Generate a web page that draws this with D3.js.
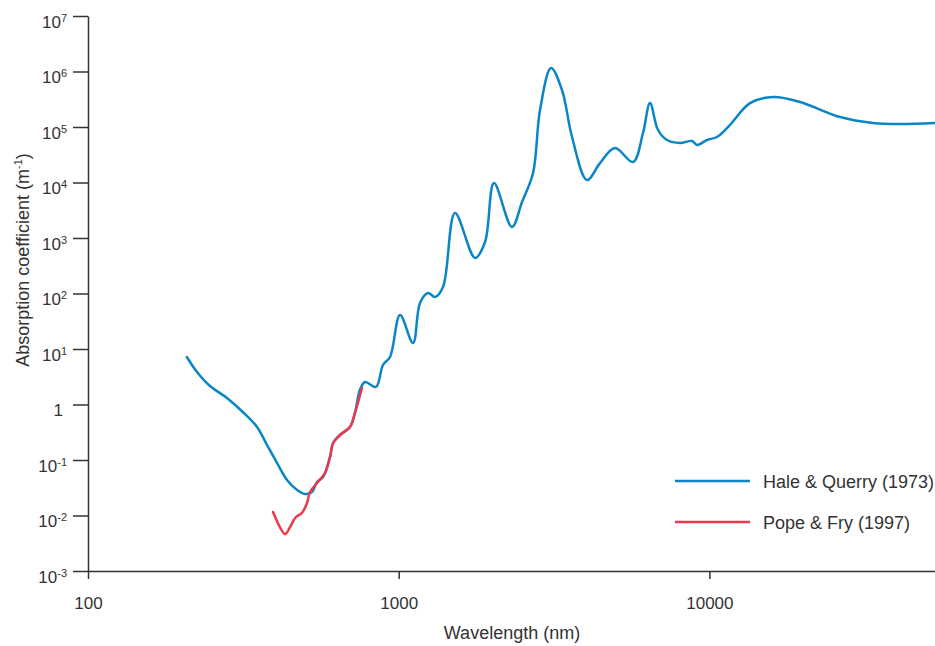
<!DOCTYPE html>
<html>
<head>
<meta charset="utf-8">
<script src="https://cdn.jsdelivr.net/npm/d3@7"></script>
<style>
    body { margin: 0; background: #fff; }
    svg text { font-family: "Liberation Sans", Arial, sans-serif; fill: #333; }
    .axis path, .axis line { stroke: #333; stroke-width: 1.5; }
    .series { fill: none; stroke-width: 2.5; stroke-linejoin: round; stroke-linecap: round; }
</style>
</head>
<body>
<div class="chart"></div>
<script>
"use strict";

// Hale & Querry (1973): wavelength (nm), absorption coefficient (m^-1)
const hale_wavelength = [208, 224, 247, 280, 315, 350, 377, 406, 437, 471, 499, 526, 546, 571,
    601, 615, 647, 697, 723, 750, 779, 845, 890, 938, 1010, 1112, 1171, 1243, 1309, 1389, 1518, 1761,
    1896, 2026, 2315, 2494, 2706, 2850, 3092, 3354, 3613, 4037, 4445, 4968, 5677, 6114, 6440,
    6833, 7304, 8043, 8790, 9123, 9824, 10580, 11650, 13510, 16020, 19570, 26330, 33630,
    41080, 53230];
const hale_absorption = [7.18, 3.9, 2.15, 1.31, 0.733, 0.394, 0.186, 0.0883, 0.0436, 0.0288,
    0.0244, 0.0265, 0.0402, 0.0494, 0.113, 0.202, 0.282, 0.394, 0.703, 1.82, 2.54, 2.07, 5.15, 7.18, 41.0,
    12.8, 67.4, 102, 86.5, 131, 2820, 437, 847, 9790, 1580, 4450, 14800, 202000, 1156000,
    464000, 66100, 11100, 22400, 41800, 23400, 78000, 270000, 88300, 58300, 51500, 56000,
    47400, 58300, 66100, 109000, 270000, 347000, 282000, 151000, 118000, 113000, 118000];

// Pope & Fry (1997)
const pope_wavelength = [394, 431, 447, 467, 488, 507, 518, 546, 579, 601, 615, 647, 697, 723, 762];
const pope_absorption = [0.01156, 0.00464, 0.00621, 0.0094, 0.0111, 0.0168, 0.0265, 0.0385,
    0.0583, 0.113, 0.202, 0.282, 0.394, 0.703, 1.98];

const x_ticks = [100, 1000, 10000];
const y_ticks = [1e-3, 1e-2, 1e-1, 1, 1e1, 1e2, 1e3, 1e4, 1e5, 1e6, 1e7];

const legend_names = ["Hale & Querry (1973)", "Pope & Fry (1997)"];
const series_colors = ["#0a85c6", "#ec3a4c"];

window.onload = () => main();

function main() {
    const config = { width: 935, height: 646, left: 88, top: 16, bottom: 571, decade: 310.7 };

    const svg = d3.select(".chart")
        .append("svg")
        .attr("width", config.width)
        .attr("height", config.height);

    const x = d3.scaleLog()
        .domain([100, 100000])
        .range([config.left, config.left + 3 * config.decade]);
    const y = d3.scaleLog()
        .domain([1e-3, 1e7])
        .range([config.bottom, config.top]);

    // x axis
    const x_axis = svg.append("g")
        .attr("class", "axis")
        .attr("transform", `translate(0,${config.bottom})`)
        .call(d3.axisBottom(x).tickValues(x_ticks).tickSize(8).tickSizeOuter(0).tickFormat(d3.format("d")));
    x_axis.selectAll("text")
        .attr("font-size", 17)
        .attr("y", 26)
        .attr("dy", "0.71em");

    // y axis with superscript labels
    const y_axis = svg.append("g")
        .attr("class", "axis")
        .attr("transform", `translate(${config.left},0)`)
        .call(d3.axisLeft(y).tickValues(y_ticks).tickSize(15).tickSizeOuter(0).tickFormat(""));
    y_axis.selectAll(".tick text").remove();
    y_axis.selectAll(".tick").each(function(d) {
        const exponent = Math.round(Math.log10(d));
        const label = d3.select(this).append("text")
            .attr("x", -21)
            .attr("y", 11)
            .attr("text-anchor", "end")
            .attr("font-size", 17)
            .attr("fill", "#333")
            .attr("stroke", "none");
        if (exponent === 0) {
            label.attr("x", -25).text("1");
        } else {
            label.append("tspan").text("10");
            label.append("tspan")
                .attr("font-size", 11)
                .attr("dy", -6)
                .text(exponent);
        }
    });
    svg.selectAll(".axis .domain").attr("fill", "none");

    // axis titles
    svg.append("text")
        .attr("x", 512)
        .attr("y", 639)
        .attr("text-anchor", "middle")
        .attr("font-size", 18)
        .text("Wavelength (nm)");

    const y_title = svg.append("text")
        .attr("transform", "translate(29,260) rotate(-90)")
        .attr("text-anchor", "middle")
        .attr("font-size", 18);
    y_title.append("tspan").text("Absorption coefficient (m");
    y_title.append("tspan").attr("font-size", 11).attr("dy", -7).text("-1");
    y_title.append("tspan").attr("dy", 7).text(")");

    // curves
    const line = d3.line()
        .x((d) => x(d[0]))
        .y((d) => y(d[1]))
        .curve(d3.curveCatmullRom.alpha(0.5));

    const hale = d3.zip(hale_wavelength, hale_absorption);
    const pope = d3.zip(pope_wavelength, pope_absorption);

    svg.append("path")
        .datum(hale)
        .attr("class", "series")
        .attr("stroke", series_colors[0])
        .attr("d", line);
    svg.append("path")
        .datum(pope)
        .attr("class", "series")
        .attr("stroke", series_colors[1])
        .attr("d", line);

    // legend
    const legend = svg.append("g").attr("transform", "translate(675,481)");
    legend.selectAll("g")
        .data(legend_names)
        .enter()
        .append("g")
        .attr("transform", (d, i) => `translate(0,${i * 41})`)
        .each(function(d, i) {
            d3.select(this).append("line")
                .attr("x1", 0).attr("x2", 75)
                .attr("stroke", series_colors[i])
                .attr("stroke-width", 2.5);
            d3.select(this).append("text")
                .attr("x", 88)
                .attr("y", 6.5)
                .attr("font-size", 18)
                .text(d);
        });
}
</script>
</body>
</html>
